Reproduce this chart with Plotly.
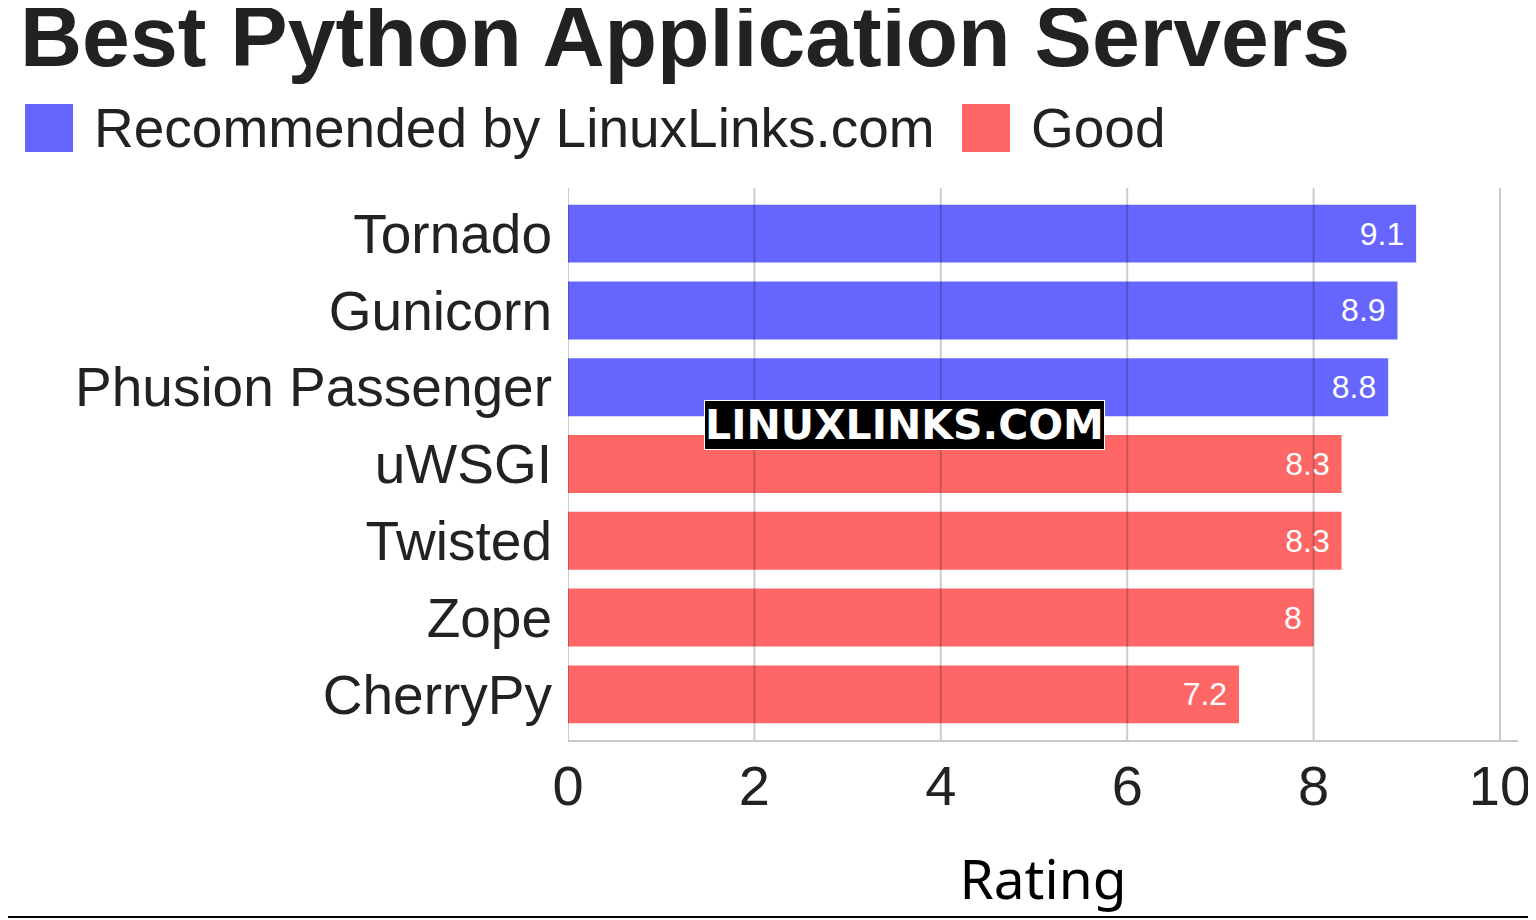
import plotly.graph_objects as go

# ---- data ----
title_text = "Best Python Application Servers"
group_names = ["Recommended by LinuxLinks.com", "Good"]
group_colors = ["#6666ff", "#ff6666"]

rec_servers = ["Tornado", "Gunicorn", "Phusion Passenger"]
rec_ratings = [9.1, 8.9, 8.8]
good_servers = ["uWSGI", "Twisted", "Zope", "CherryPy"]
good_ratings = [8.3, 8.3, 8.0, 7.2]

x_ticks = [0, 2, 4, 6, 8, 10]
x_title = "Rating"
watermark = "LINUXLINKS.COM"

# ---- geometry (page has an 8px body margin) ----
OFF = 8
W, H = 1536 - OFF, 920 - OFF
ML, MR, MT, MB = 568 - OFF, 18, 188 - OFF, 180
PW, PH = W - ML - MR, H - MT - MB


def px(x):  # page pixel -> paper x
    return (x - OFF - ML) / PW


def py(y):  # page pixel -> paper y
    return (H - MB - (y - OFF)) / PH


TXT = "#222222"
SANS = "Liberation Sans, Arial, sans-serif"

categories = rec_servers + good_servers

fig = go.Figure()
for name, color, cats, vals in [
    (group_names[0], group_colors[0], rec_servers, rec_ratings),
    (group_names[1], group_colors[1], good_servers, good_ratings),
]:
    fig.add_trace(go.Bar(
        name=name, y=cats, x=vals, orientation="h",
        marker=dict(color=color, line=dict(width=0)),
        texttemplate="%{x}\u00a0", textposition="inside",
        insidetextanchor="end", textangle=0,
        textfont=dict(family=SANS, size=32, color="white"),
        hoverinfo="x+y",
    ))

shapes = []
# gridlines drawn above bars
for t in x_ticks:
    shapes.append(dict(type="line", xref="x", yref="paper", x0=t, x1=t, y0=0, y1=1,
                       line=dict(color="rgba(0,0,0,0.2)", width=2), layer="above"))
# legend squares
sq = 48
leg_y = 128
for gx, c in [(25, group_colors[0]), (962, group_colors[1])]:
    shapes.append(dict(type="rect", xref="paper", yref="paper",
                       x0=px(gx), x1=px(gx + sq), y0=py(leg_y - sq / 2), y1=py(leg_y + sq / 2),
                       fillcolor=c, line=dict(width=0), layer="above"))
# bottom border line
shapes.append(dict(type="line", xref="paper", yref="paper", x0=px(0), x1=px(1536),
                   y0=py(917), y1=py(917), line=dict(color="black", width=2)))

annotations = [
    dict(text=f"<b>{title_text}</b>", xref="paper", yref="paper", x=px(18), y=py(36),
         xanchor="left", yanchor="middle", showarrow=False,
         font=dict(family=SANS, size=86, color=TXT)),
    dict(text=group_names[0], xref="paper", yref="paper", x=px(92), y=py(leg_y),
         xanchor="left", yanchor="middle", showarrow=False,
         font=dict(family=SANS, size=55, color=TXT)),
    dict(text=group_names[1], xref="paper", yref="paper", x=px(1029), y=py(leg_y),
         xanchor="left", yanchor="middle", showarrow=False,
         font=dict(family=SANS, size=55, color=TXT)),
    dict(text=f"<b>{watermark}</b>", xref="paper", yref="paper", x=px(904), y=py(425),
         xanchor="center", yanchor="middle", showarrow=False,
         font=dict(family="DejaVu Sans", size=41, color="white"),
         bgcolor="black", bordercolor="white", borderwidth=1, borderpad=0),
]

fig.update_layout(
    width=W, height=H,
    margin=dict(l=ML, r=MR, t=MT, b=MB, autoexpand=False),
    paper_bgcolor="white", plot_bgcolor="white",
    showlegend=False, barmode="relative", bargap=0.245,
    shapes=shapes, annotations=annotations,
    xaxis=dict(range=[0, 10.193], tickvals=x_ticks, showgrid=False, zeroline=False,
               showline=True, linecolor="#c8c8c8", linewidth=2,
               ticks="", ticklabelstandoff=-4,
               tickfont=dict(family=SANS, size=56, color=TXT),
               title=dict(text=x_title, standoff=44,
                          font=dict(family="Noto Sans, Open Sans, sans-serif", size=55, color="black"))),
    yaxis=dict(type="category", categoryorder="array", categoryarray=categories,
               range=[6.594, -0.594], showgrid=False, zeroline=False, showline=False,
               ticks="outside", ticklen=4, tickcolor="rgba(0,0,0,0)",
               tickfont=dict(family=SANS, size=55, color=TXT)),
)

fig.write_html("out.html")
